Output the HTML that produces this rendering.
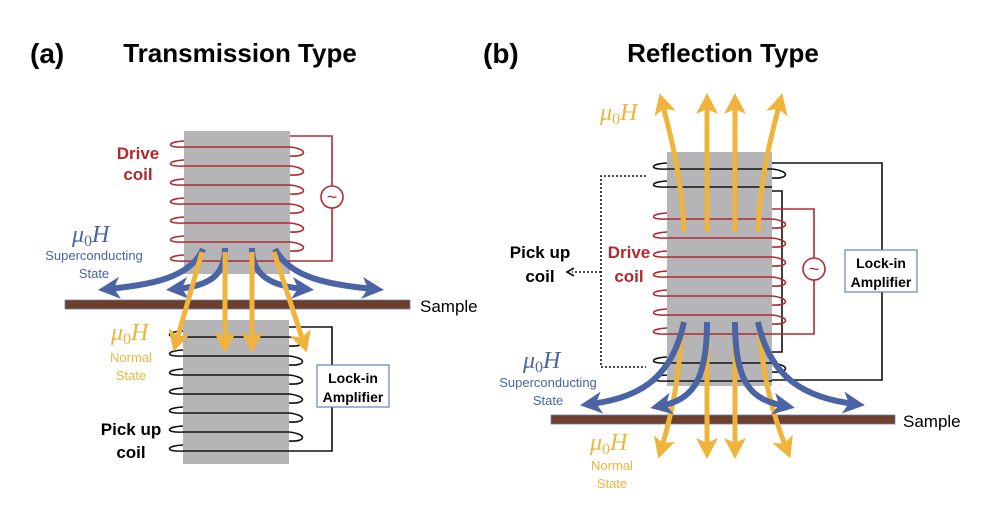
<!DOCTYPE html>
<html><head><meta charset="utf-8"><style>
html,body{margin:0;padding:0;background:#fff;}
svg{display:block;font-family:"Liberation Sans",sans-serif;}
</style></head><body>
<svg width="997" height="507" viewBox="0 0 997 507" xmlns="http://www.w3.org/2000/svg">
<defs>
<marker id="ob" markerUnits="userSpaceOnUse" markerWidth="30" markerHeight="30" refX="12" refY="15" orient="auto"><path d="M0,4 L21,15 L0,26 L5,15 Z" fill="#f0b43c"/></marker>
<marker id="bb" markerUnits="userSpaceOnUse" markerWidth="30" markerHeight="30" refX="12" refY="15" orient="auto"><path d="M0,4 L22,15 L0,26 L6,15 Z" fill="#4a64a6"/></marker>
</defs>

<text x="30" y="63" font-size="28" font-weight="bold">(a)</text>
<text x="240" y="62" font-size="26" font-weight="bold" text-anchor="middle">Transmission Type</text>
<text x="483" y="63" font-size="28" font-weight="bold">(b)</text>
<text x="723" y="62" font-size="26" font-weight="bold" text-anchor="middle">Reflection Type</text>

<!-- ===== Panel A ===== -->
<rect x="184" y="131" width="106" height="143" fill="#b5b5b7"/>
<rect x="183" y="320" width="106" height="144" fill="#b5b5b7"/>
<g fill="none" stroke="#b02a2e" stroke-width="1.6">
<path d="M290,136 H332 V261 H290"/>
<circle cx="332" cy="197" r="11" fill="#fff"/>
</g>
<text x="332" y="203" font-size="18" fill="#b02a2e" text-anchor="middle">~</text>
<g fill="none" stroke="#b02a2e" stroke-width="1.6">
<path d="M184,141 C166,142 166,148 184,147 H290 C308,149 308,157 290,156"/>
<path d="M184,160 C166,161 166,167 184,166 H290 C308,168 308,176 290,175"/>
<path d="M184,179 C166,180 166,186 184,185 H290 C308,187 308,195 290,194"/>
<path d="M184,198 C166,199 166,205 184,204 H290 C308,206 308,214 290,213"/>
<path d="M184,217 C166,218 166,224 184,223 H290 C308,225 308,233 290,232"/>
<path d="M184,236 C166,237 166,243 184,242 H290 C308,244 308,252 290,251"/>
<path d="M184,255 C166,256 166,262 184,261 H290"/>
</g>
<g fill="none" stroke="#111" stroke-width="1.6">
<path d="M289,327 H332 V451 H289"/>
<path d="M183,331 C165,332 165,338 183,337 H289 C307,339 307,347 289,346"/>
<path d="M183,350 C165,351 165,357 183,356 H289 C307,358 307,366 289,365"/>
<path d="M183,369 C165,370 165,376 183,375 H289 C307,377 307,385 289,384"/>
<path d="M183,388 C165,389 165,395 183,394 H289 C307,396 307,404 289,403"/>
<path d="M183,407 C165,408 165,414 183,413 H289 C307,415 307,423 289,422"/>
<path d="M183,426 C165,427 165,433 183,432 H289 C307,434 307,442 289,441"/>
<path d="M183,445 C165,446 165,452 183,451 H289"/>
</g>
<rect x="317" y="365" width="72" height="42" fill="#fff" stroke="#6b7fb8" stroke-width="1.2"/>
<text x="353" y="383" font-size="14" font-weight="bold" text-anchor="middle">Lock-in</text>
<text x="353" y="402" font-size="14" font-weight="bold" text-anchor="middle">Amplifier</text>
<rect x="65" y="300" width="345" height="9" fill="#6e3f2a" stroke="#6b7fb8" stroke-width="0.8"/>
<text x="420" y="312" font-size="17">Sample</text>
<g stroke="#4a64a6" stroke-width="6" fill="none">
<path d="M203,249 C190,278 150,285 108,289" marker-end="url(#bb)"/>
<path d="M225,248 C225,275 210,286 176,289" marker-end="url(#bb)"/>
<path d="M252,248 C252,275 270,286 304,289" marker-end="url(#bb)"/>
<path d="M275,249 C290,278 330,285 374,289" marker-end="url(#bb)"/>
</g>
<g stroke="#f0b43c" stroke-width="5" fill="none">
<path d="M202,252 L176,343" marker-end="url(#ob)"/>
<path d="M225,252 L225,344" marker-end="url(#ob)"/>
<path d="M252,252 L252,344" marker-end="url(#ob)"/>
<path d="M274,252 L304,344" marker-end="url(#ob)"/>
</g>
<text x="138" y="159" font-size="17" font-weight="bold" fill="#b02a2e" text-anchor="middle">Drive</text>
<text x="138" y="180" font-size="17" font-weight="bold" fill="#b02a2e" text-anchor="middle">coil</text>
<text x="72" y="242" font-size="24" font-style="italic" fill="#4a64a6" font-family="Liberation Serif,serif">μ<tspan font-size="16" dy="4" font-style="normal">0</tspan><tspan dy="-4">H</tspan></text>
<text x="94" y="260" font-size="13" fill="#4a64a6" text-anchor="middle">Superconducting</text>
<text x="94" y="278" font-size="13" fill="#4a64a6" text-anchor="middle">State</text>
<text x="111" y="340" font-size="24" font-style="italic" fill="#f0b43c" font-family="Liberation Serif,serif">μ<tspan font-size="16" dy="4" font-style="normal">0</tspan><tspan dy="-4">H</tspan></text>
<text x="131" y="362" font-size="13" fill="#f0b43c" text-anchor="middle">Normal</text>
<text x="131" y="380" font-size="13" fill="#f0b43c" text-anchor="middle">State</text>
<text x="131" y="435" font-size="17" font-weight="bold" text-anchor="middle">Pick up</text>
<text x="131" y="458" font-size="17" font-weight="bold" text-anchor="middle">coil</text>

<!-- ===== Panel B ===== -->
<rect x="667" y="152" width="105" height="234" fill="#b5b5b7"/>
<g fill="none" stroke="#111" stroke-width="1.6">
<path d="M772,163 H882 V380 H772"/>
<path d="M772,191 H782 V352 H772"/>
<path d="M667,163 C649,164 649,170 667,169 H772 C790,171 790,179 772,178"/>
<path d="M667,181 C649,182 649,188 667,187 H772"/>
<path d="M667,357 C649,358 649,364 667,363 H772 C790,365 790,373 772,372"/>
<path d="M667,375 C649,376 649,382 667,381 H772"/>
</g>
<g fill="none" stroke="#b02a2e" stroke-width="1.6">
<path d="M772,209 H814 V334 H772"/>
<circle cx="814" cy="269" r="11" fill="#fff"/>
<path d="M667,213 C649,214 649,220 667,219 H772 C790,221 790,229 772,228"/>
<path d="M667,232 C649,233 649,239 667,238 H772 C790,240 790,248 772,247"/>
<path d="M667,251 C649,252 649,258 667,257 H772 C790,259 790,267 772,266"/>
<path d="M667,271 C649,272 649,278 667,277 H772 C790,279 790,287 772,286"/>
<path d="M667,290 C649,291 649,297 667,296 H772 C790,298 790,306 772,305"/>
<path d="M667,309 C649,310 649,316 667,315 H772 C790,317 790,325 772,324"/>
<path d="M667,328 C649,329 649,335 667,334 H772"/>
</g>
<text x="814" y="275" font-size="18" fill="#b02a2e" text-anchor="middle">~</text>
<rect x="845" y="250" width="72" height="42" fill="#fff" stroke="#6b7fb8" stroke-width="1.2"/>
<text x="881" y="268" font-size="14" font-weight="bold" text-anchor="middle">Lock-in</text>
<text x="881" y="287" font-size="14" font-weight="bold" text-anchor="middle">Amplifier</text>
<g fill="none" stroke="#111" stroke-width="1.6" stroke-dasharray="2,2">
<path d="M646,176 H601 V367 H646"/>
<path d="M601,272 H572"/>
</g>
<path d="M574,268 L567,272 L574,276" fill="none" stroke="#111" stroke-width="1.6"/>
<rect x="551" y="415" width="344" height="9" fill="#6e3f2a" stroke="#6b7fb8" stroke-width="0.8"/>
<text x="903" y="427" font-size="17">Sample</text>
<g stroke="#f0b43c" stroke-width="5" fill="none">
<path d="M684,232 C682,180 672,140 662,102" marker-end="url(#ob)"/>
<path d="M707,232 L707,102" marker-end="url(#ob)"/>
<path d="M735,232 L735,102" marker-end="url(#ob)"/>
<path d="M758,232 C760,180 770,140 780,102" marker-end="url(#ob)"/>
<path d="M682,322 C680,380 670,420 661,450" marker-end="url(#ob)"/>
<path d="M707,322 L707,450" marker-end="url(#ob)"/>
<path d="M735,322 L735,450" marker-end="url(#ob)"/>
<path d="M759,322 C762,380 775,420 787,450" marker-end="url(#ob)"/>
</g>
<g stroke="#4a64a6" stroke-width="6" fill="none">
<path d="M684,322 C672,378 640,398 590,404" marker-end="url(#bb)"/>
<path d="M707,322 C707,385 690,400 660,406" marker-end="url(#bb)"/>
<path d="M735,322 C735,385 752,400 785,406" marker-end="url(#bb)"/>
<path d="M758,322 C770,378 805,398 855,404" marker-end="url(#bb)"/>
</g>
<text x="540" y="258" font-size="17" font-weight="bold" text-anchor="middle">Pick up</text>
<text x="540" y="282" font-size="17" font-weight="bold" text-anchor="middle">coil</text>
<text x="629" y="258" font-size="17" font-weight="bold" fill="#b02a2e" text-anchor="middle">Drive</text>
<text x="629" y="282" font-size="17" font-weight="bold" fill="#b02a2e" text-anchor="middle">coil</text>
<text x="600" y="120" font-size="24" font-style="italic" fill="#f0b43c" font-family="Liberation Serif,serif">μ<tspan font-size="16" dy="4" font-style="normal">0</tspan><tspan dy="-4">H</tspan></text>
<text x="523" y="368" font-size="24" font-style="italic" fill="#4a64a6" font-family="Liberation Serif,serif">μ<tspan font-size="16" dy="4" font-style="normal">0</tspan><tspan dy="-4">H</tspan></text>
<text x="548" y="387" font-size="13" fill="#4a64a6" text-anchor="middle">Superconducting</text>
<text x="548" y="405" font-size="13" fill="#4a64a6" text-anchor="middle">State</text>
<text x="590" y="450" font-size="24" font-style="italic" fill="#f0b43c" font-family="Liberation Serif,serif">μ<tspan font-size="16" dy="4" font-style="normal">0</tspan><tspan dy="-4">H</tspan></text>
<text x="612" y="470" font-size="13" fill="#f0b43c" text-anchor="middle">Normal</text>
<text x="612" y="488" font-size="13" fill="#f0b43c" text-anchor="middle">State</text>
</svg>
</body></html>
